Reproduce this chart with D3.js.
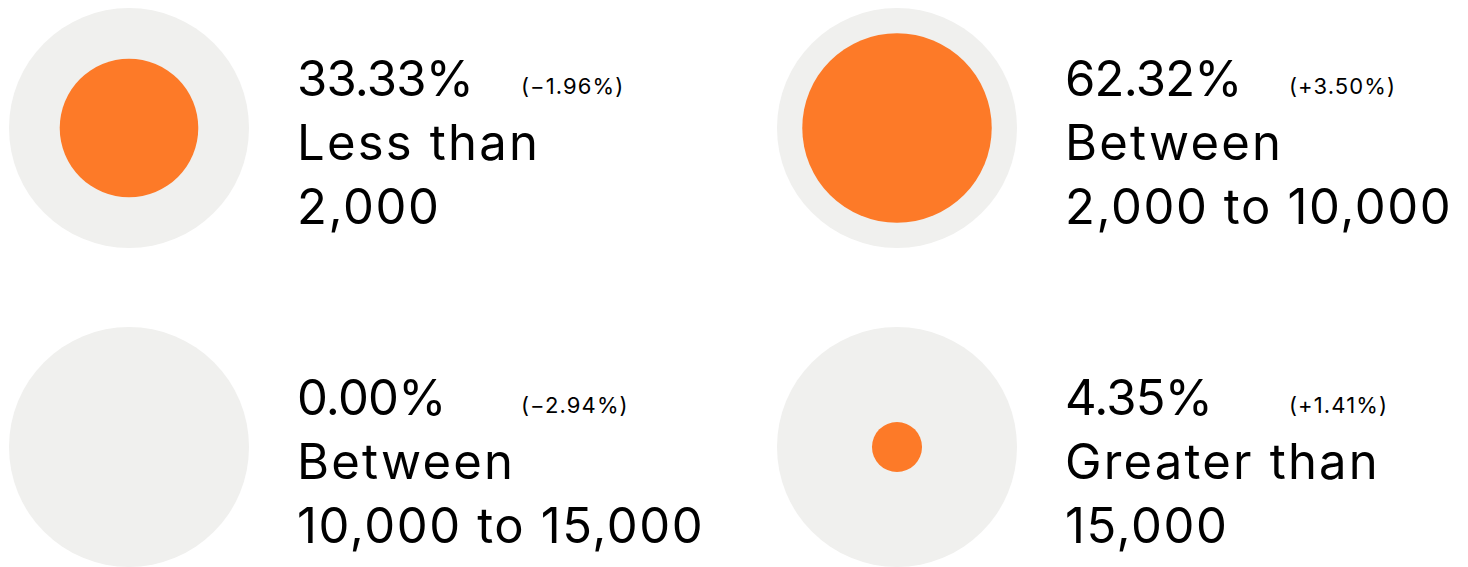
<!DOCTYPE html>
<meta charset="utf-8">
<script src="https://d3js.org/d3.v7.min.js"></script>
<style>
  html, body { margin: 0; padding: 0; background: #fff; }
  svg text { font-family: 'Inter', 'Roboto', sans-serif; fill: #000; }
  .big { font-size: 49px; }
  .pct { letter-spacing: -0.8px; }
  .lab { letter-spacing: 2.2px; }
  .num { letter-spacing: 1.6px; }
  .small { font-size: 22px; letter-spacing: 1.1px; }
</style>
<body>
<div id="chart"></div>
<script>

// data
var shares = [33.33, 62.32, 0.00, 4.35];
var changes = ["(\u22121.96%)", "(+3.50%)", "(\u22122.94%)", "(+1.41%)"];
var labelTop = ["Less than", "Between", "Between", "Greater than"];
var labelBottom = ["2,000", "2,000 to 10,000", "10,000 to 15,000", "15,000"];

var width = 1468, height = 567;
var R = 120;

var svg = d3.select("#chart")
  .append("svg")
    .attr("width", width)
    .attr("height", height);

// size of the orange dot: area follows the share
var r = d3.scaleSqrt().domain([0, 100]).range([0, R]);

// 2 x 2 grid
var colX = d3.scaleOrdinal().domain([0, 1]).range([129, 897]);
var rowY = d3.scaleOrdinal().domain([0, 1]).range([128, 447]);

var rows = shares.map(function(d, i) {
  return { share: d, change: changes[i], top: labelTop[i], bottom: labelBottom[i], col: i % 2, row: Math.floor(i / 2) };
});

var g = svg.selectAll("g.item")
  .data(rows)
  .enter()
  .append("g")
    .attr("class", "item")
    .attr("transform", function(d) { return "translate(" + colX(d.col) + "," + rowY(d.row) + ")"; });

g.append("circle")
  .attr("r", R)
  .attr("fill", "#f0f0ee");

g.append("circle")
  .attr("r", function(d) { return r(d.share); })
  .attr("fill", "#fd7a28");

var tx = 168;

g.append("text")
  .attr("class", "big pct")
  .attr("x", tx)
  .attr("y", -32)
  .text(function(d) { return d.share.toFixed(2) + "%"; });

g.append("text")
  .attr("class", "small")
  .attr("x", tx + 224)
  .attr("y", -34)
  .text(function(d) { return d.change; });

g.append("text")
  .attr("class", "big lab")
  .attr("x", tx)
  .attr("y", 32)
  .text(function(d) { return d.top; });

g.append("text")
  .attr("class", "big num")
  .attr("x", tx)
  .attr("y", 96)
  .text(function(d) { return d.bottom; });

</script>
</body>
